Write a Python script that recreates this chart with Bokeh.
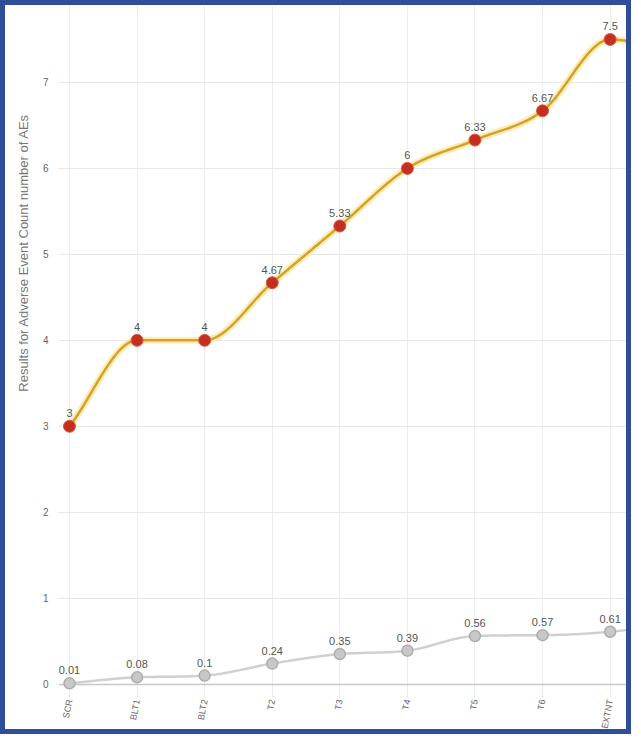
import numpy as np
from bokeh.plotting import figure
from bokeh.models import ColumnDataSource, LabelSet, Title, FixedTicker, Range1d, Grid
from bokeh.core.properties import value
from bokeh.embed import file_html
from bokeh.resources import INLINE

# Visits along the x axis (the last one lies past the visible range)
visits = ["SCR", "BLT1", "BLT2", "T2", "T3", "T4", "T5", "T6", "EXTNT", "FU"]
# Adverse event count per visit
ae_count = [3, 4, 4, 4.67, 5.33, 6, 6.33, 6.67, 7.5, 7.33]
# Second series (rate per visit)
ae_rate = [0.01, 0.08, 0.1, 0.24, 0.35, 0.39, 0.56, 0.57, 0.61, 0.71]
y_ticks = [0, 1, 2, 3, 4, 5, 6, 7]
n_shown = 9  # visits inside the visible x range

FONT = "Liberation Sans"


def monotone_curve(xs, ys, steps=30):
    """Monotone cubic (Fritsch-Carlson) curve through the given points."""
    xs = np.asarray(xs, float)
    ys = np.asarray(ys, float)
    n = len(xs)
    h = np.diff(xs)
    d = np.diff(ys) / h
    m = np.zeros(n)
    m[0], m[-1] = d[0], d[-1]
    for i in range(1, n - 1):
        m[i] = 0.0 if np.sign(d[i - 1]) != np.sign(d[i]) else (d[i - 1] + d[i]) / 2
    for i in range(n - 1):
        if abs(d[i]) < 1e-12:
            m[i] = m[i + 1] = 0.0
            continue
        a, b = m[i] / d[i], m[i + 1] / d[i]
        s = a * a + b * b
        if s > 9:
            t = 3 / np.sqrt(s)
            m[i], m[i + 1] = t * a * d[i], t * b * d[i]
    cx, cy = [], []
    for i in range(n - 1):
        t = np.linspace(0, 1, steps, endpoint=(i == n - 2))
        h00 = 2 * t**3 - 3 * t**2 + 1
        h10 = t**3 - 2 * t**2 + t
        h01 = -2 * t**3 + 3 * t**2
        h11 = t**3 - t**2
        cx.extend(xs[i] + t * h[i])
        cy.extend(h00 * ys[i] + h10 * h[i] * m[i] + h01 * ys[i + 1] + h11 * h[i] * m[i + 1])
    return cx, cy


x_idx = list(range(len(visits)))

p = figure(
    width=631, height=734,
    x_range=Range1d(-0.1625, 8.39), y_range=Range1d(-0.12, 7.895),
    output_backend="svg", toolbar_location=None,
    min_border_left=52, min_border_right=0, min_border_top=0, min_border_bottom=45,
    background_fill_color="white", border_fill_color="white",
    styles={"border": "5px solid #2e4e97"},
)
p.outline_line_color = None

# axes
p.xaxis.ticker = FixedTicker(ticks=x_idx[:n_shown])
p.xaxis.major_label_overrides = {i: v for i, v in enumerate(visits)}
p.xaxis.major_label_orientation = 1.38
p.xaxis.axis_line_color = None
p.xaxis.major_tick_out = 3
p.xaxis.major_tick_in = 0
p.xaxis.major_tick_line_color = "#e2e2e2"
p.xaxis.minor_tick_line_color = None
p.xaxis.major_label_standoff = 2
p.xaxis.major_label_text_font = FONT
p.xaxis.major_label_text_font_size = "9px"
p.xaxis.major_label_text_color = "#666666"

p.yaxis.ticker = FixedTicker(ticks=y_ticks)
p.yaxis.axis_line_color = None
p.yaxis.major_tick_line_color = None
p.yaxis.minor_tick_line_color = None
p.yaxis.major_label_standoff = 4
p.yaxis.major_label_text_font = FONT
p.yaxis.major_label_text_font_size = "10px"
p.yaxis.major_label_text_color = "#666666"

p.xgrid.grid_line_color = "#ececec"
p.ygrid.grid_line_color = "#e8e8e8"
p.add_layout(Grid(dimension=1, ticker=FixedTicker(ticks=[0]),
                  grid_line_color="#c8c8c8", grid_line_width=1.5))

# rate series (grey)
gx, gy = monotone_curve(x_idx, ae_rate)
p.line(gx, gy, line_color="#d0d0d0", line_width=2.5)
rate_src = ColumnDataSource(dict(x=x_idx, y=ae_rate))
p.scatter("x", "y", source=rate_src, size=11, fill_color="#c8c8c8",
          line_color="#adadad", line_width=1.5)

# count series (gold line, red markers)
cx, cy = monotone_curve(x_idx, ae_count)
p.line(cx, cy, line_color="#fbe9a2", line_width=7, line_alpha=0.8)
p.line(cx, cy, line_color="#d4a22c", line_width=2.5)
count_src = ColumnDataSource(dict(x=x_idx, y=ae_count))
p.scatter("x", "y", source=count_src, size=12, fill_color="#c3301f",
          line_color="#d85a44", line_width=1)

# value labels for the visits inside the visible range
for vals in (ae_rate, ae_count):
    lab_src = ColumnDataSource(dict(x=x_idx[:n_shown], y=vals[:n_shown],
                                    t=[f"{v:g}" for v in vals[:n_shown]]))
    p.add_layout(LabelSet(x="x", y="y", text="t", source=lab_src, y_offset=9,
                          text_align="center", text_baseline="bottom",
                          text_font=value(FONT), text_font_size=value("11px"),
                          text_color="#555555"))

# y-axis title, anchored towards the top of the left side
p.add_layout(Title(text="Results for Adverse Event Count number of AEs",
                   align="right", offset=108, standoff=17,
                   text_font=FONT, text_font_size="13px", text_font_style="normal",
                   text_color="#777777"), "left")

open("out.html", "w").write(file_html(p, INLINE))
